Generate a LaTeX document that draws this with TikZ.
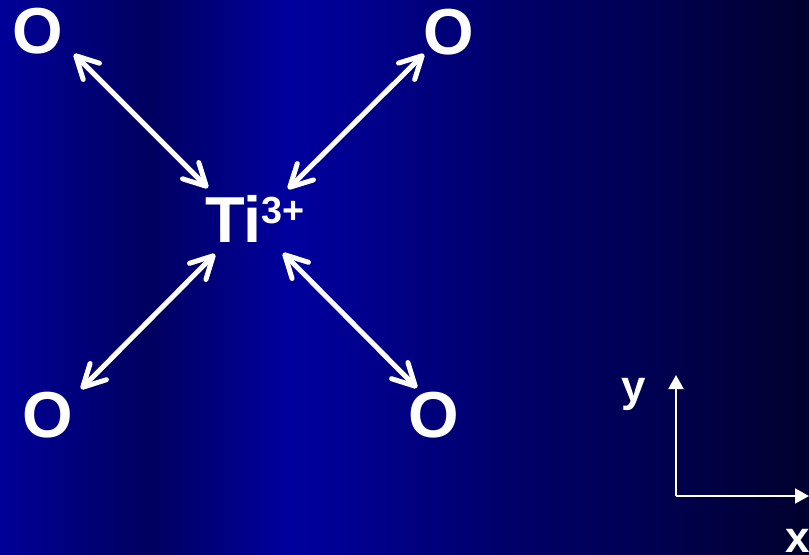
\documentclass[tikz,border=0pt]{standalone}
\usepackage{fontspec}
\setmainfont{Liberation Sans}
\usetikzlibrary{arrows.meta}

\definecolor{bgA}{RGB}{0,0,152}
\definecolor{bgB}{RGB}{0,0,96}
\definecolor{bgC}{RGB}{0,0,158}
\definecolor{bgD}{RGB}{0,0,104}
\definecolor{bgE}{RGB}{0,0,82}
\definecolor{bgF}{RGB}{0,0,46}
\pgfdeclarehorizontalshading{slidebg}{100bp}{color(0bp)=(bgA); color(25bp)=(bgA);
  color(34.27bp)=(bgB); color(42.92bp)=(bgC); color(56.89bp)=(bgD);
  color(65.17bp)=(bgE); color(75bp)=(bgF); color(100bp)=(bgF)}

\begin{document}
\begin{tikzpicture}[x=0.02cm, y=-0.02cm,
    atom/.style={text=white, font=\bfseries\fontsize{37}{37}\selectfont, inner sep=0pt},
    axlbl/.style={text=white, font=\bfseries\fontsize{25}{25}\selectfont, inner sep=0pt},
    bond/.style={white, line width=0.1cm,
      {Straight Barb[round, length=0.44cm, width=0.46cm]}-{Straight Barb[round, length=0.44cm, width=0.46cm]}},
    axis/.style={white, line width=0.04cm, -{Triangle[length=0.28cm, width=0.3cm]}}]

    % background
    \useasboundingbox (0,0) rectangle (809,555);
    \shade[shading=slidebg] (0,0) rectangle (809,555);

    % === central ion ===
    \node[atom, anchor=base west] (ti) at (205,242)
      {Ti\raisebox{10.3pt}{\fontsize{21.5}{21.5}\selectfont 3+}};

    % === oxygens ===
    \node[atom] (oTL) at (38,31)   {O};
    \node[atom] (oTR) at (449,32)  {O};
    \node[atom] (oBL) at (48,415)  {O};
    \node[atom] (oBR) at (434,415) {O};

    % === bonds ===
    \draw[bond] ([shift={(36,23)}]oTL.center) -- ([shift={(3,-54)}]ti.base west);
    \draw[bond] ([shift={(-25,22)}]oTR.center) -- ([shift={(83,-53)}]ti.base west);
    \draw[bond] ([shift={(33,-26)}]oBL.center) -- ([shift={(10,12)}]ti.base west);
    \draw[bond] ([shift={(-17,-27)}]oBR.center) -- ([shift={(78,11)}]ti.base west);

    % === axes ===
    \coordinate (orig) at (676,496);
    \coordinate (yend) at (676,375);
    \coordinate (xend) at (809,496);
    \draw[axis] (orig) -- (yend);
    \draw[axis] (orig) -- (xend);
    \node[axlbl, anchor=base] (ylbl) at (634,401) {y};
    \node[axlbl, anchor=base west] (xlbl) at (785,552) {x};

\end{tikzpicture}
\end{document}
